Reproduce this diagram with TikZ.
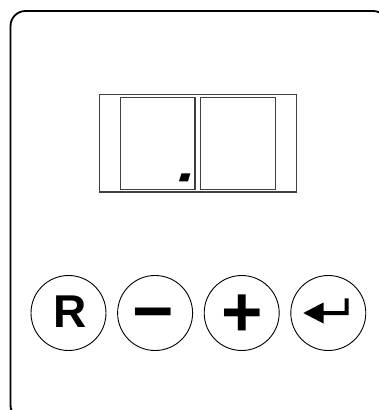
\documentclass[tikz,border=0pt]{standalone}
\usepackage{fontspec}
\setmainfont{Liberation Sans}
\begin{document}
\begin{tikzpicture}[x=1pt,y=-1pt,
  panel/.style={line width=1.8pt,rounded corners=15pt},
  disp/.style={draw=black!75,line width=1.3pt},
  btn/.style={circle,draw,line width=0.9pt,minimum size=75pt,inner sep=0pt},
  lbl/.style={inner sep=0pt,anchor=base,font=\fontsize{46}{46}\selectfont\bfseries},
  sym/.style={inner sep=0pt,anchor=base,font=\fontsize{71}{71}\selectfont\bfseries}]
\useasboundingbox (0,0) rectangle (379,410);
\begin{scope}
  \clip (0,0) rectangle (379,410);
  \draw[panel] (10.5,11) rectangle (388,420);
\end{scope}
% display
\draw[disp] (99.3,94.3) rectangle (296.5,192);
\draw[disp] (120.5,97.2) rectangle (195,189.8);
\draw[disp] (200.5,97.2) rectangle (275.5,189.8);
\fill (181.5,173.3) -- (190.3,173.3) -- (188,181.3) -- (179,181.3) -- cycle;
% buttons
\node[btn] (bR) at (68.5,313) {};
\node[btn] (bM) at (155.1,313) {};
\node[btn] (bP) at (241.7,313) {};
\node[btn] (bE) at (328.3,313) {};
\node[lbl] (tR) at (70,327) {R};
\node[sym] (tM) at (153.3,335.6) {−};
\node[sym] (tP) at (242.5,336.4) {+};
\fill (303.3,313) -- (323.5,302.5) -- (323.5,311) -- (344.5,311) -- (344.5,298.3)
  -- (348.5,298.3) -- (348.5,315) -- (323.5,315) -- (323.5,323.5) -- cycle;
\end{tikzpicture}
\end{document}
